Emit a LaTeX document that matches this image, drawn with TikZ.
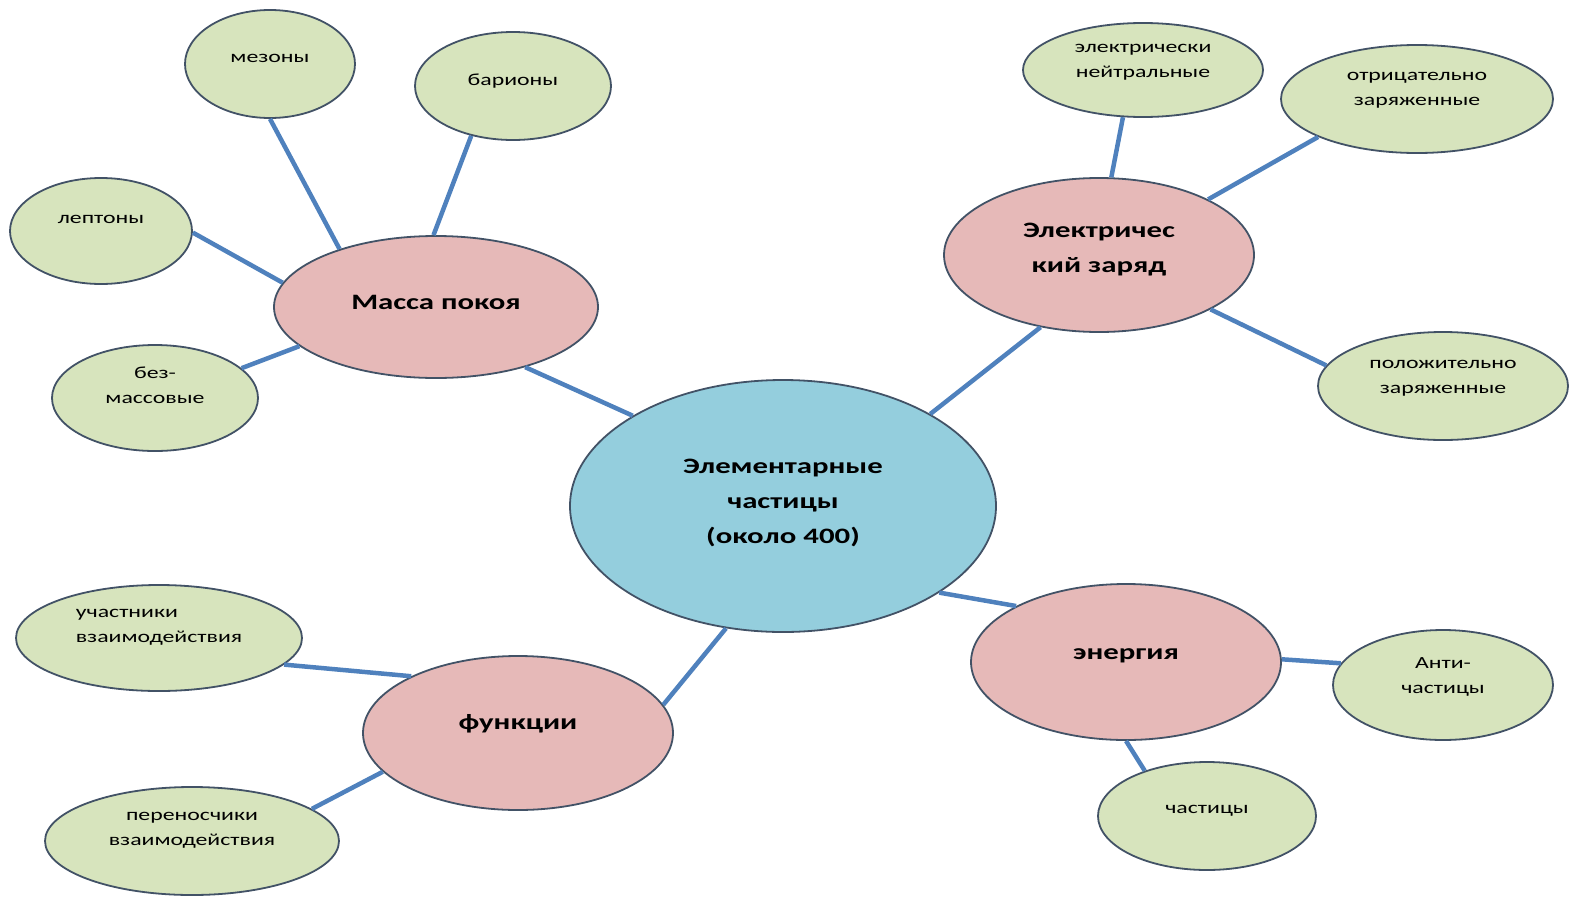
\documentclass[tikz,border=0pt]{standalone}
\usepackage{fontspec}
\setmainfont{Carlito}[FakeStretch=1.4]
\usetikzlibrary{shapes.geometric}
\definecolor{leafgreen}{RGB}{215,228,189}
\definecolor{hubpink}{RGB}{230,185,184}
\definecolor{coreblue}{RGB}{148,206,221}
\definecolor{rimgray}{RGB}{66,82,102}
\definecolor{linkblue}{RGB}{79,129,189}
\newcommand{\lift}[2][8pt]{\raisebox{#1}[\height][\depth]{\begin{tabular}{@{}c@{}}#2\end{tabular}}}
\begin{document}
\begin{tikzpicture}[x=1pt,y=-1pt,
  blob/.style={ellipse,draw=rimgray,line width=1.8pt,inner sep=0pt},
  core/.style={blob,fill=coreblue,font=\fontsize{22}{35}\selectfont\bfseries},
  hub/.style={blob,fill=hubpink,font=\fontsize{22}{35}\selectfont\bfseries},
  leaf/.style={blob,fill=leafgreen,font=\fontsize{17}{25}\selectfont},
  link/.style={draw=linkblue,line width=4.5pt}]
\useasboundingbox (0,0) rectangle (1571,897);
% centre and the four branches
\node[core,minimum width=426pt,minimum height=252pt] (core) at (783,506) {\lift[5pt]{Элементарные\\частицы\\(около 400)}};
\node[hub,minimum width=324pt,minimum height=142pt] (mass) at (436,307) {\lift[5pt]{Масса покоя}};
\node[hub,minimum width=310pt,minimum height=154pt] (charge) at (1099,255) {\lift[7pt]{Электричес\\кий заряд}};
\node[hub,minimum width=310pt,minimum height=156pt] (energy) at (1126,662) {\lift[10pt]{энергия}};
\node[hub,minimum width=310pt,minimum height=154pt] (func) at (518,733) {\lift[11pt]{функции}};
% leaves
\node[leaf,minimum width=170pt,minimum height=108pt] (mes) at (270,64) {\lift[7pt]{мезоны}};
\node[leaf,minimum width=196pt,minimum height=108pt] (bar) at (513,86) {\lift[6pt]{барионы}};
\node[leaf,minimum width=182pt,minimum height=106pt] (lep) at (101,231) {\lift[13pt]{лептоны}};
\node[leaf,minimum width=206pt,minimum height=106pt] (mless) at (155,398) {\lift[12pt]{без-\\массовые}};
\node[leaf,minimum width=240pt,minimum height=94pt] (neut) at (1143,70) {\lift[10pt]{электрически\\нейтральные}};
\node[leaf,minimum width=272pt,minimum height=108pt] (neg) at (1417,99) {\lift[11pt]{отрицательно\\заряженные}};
\node[leaf,minimum width=250pt,minimum height=108pt] (pos) at (1443,386) {\lift[10pt]{положительно\\заряженные}};
\node[leaf,minimum width=220pt,minimum height=110pt] (anti) at (1443,685) {\lift[9pt]{Анти-\\частицы}};
\node[leaf,minimum width=218pt,minimum height=108pt] (part) at (1207,816) {\lift[8pt]{частицы}};
\node[leaf,minimum width=286pt,minimum height=106pt] (user) at (159,638) {\raisebox{13pt}[\height][\depth]{\begin{tabular}{@{}l@{}}участники\\взаимодействия\end{tabular}}};
\node[leaf,minimum width=294pt,minimum height=108pt] (carr) at (192,841) {\lift[13pt]{переносчики\\взаимодействия}};
% connectors
\draw[link] (mes.270) -- (mass.149);
\draw[link] (bar.230) -- (mass.92);
\draw[link] (lep.-1) -- (mass.171);
\draw[link] (mless.19) -- (mass.196);
\draw[link] (mass.326) -- (core.149);
\draw[link] (charge.231) -- (core.32);
\draw[link] (neut.247) -- (charge.81);
\draw[link] (neg.201) -- (charge.27);
\draw[link] (pos.170) -- (charge.334);
\draw[link] (core.331) -- (energy.153);
\draw[link] (energy.1) -- (anti.168);
\draw[link] (energy.270) -- (part.144);
\draw[link] (core.245) -- (func.11);
\draw[link] (user.348) -- (func.152);
\draw[link] (carr.15) -- (func.196);
\end{tikzpicture}
\end{document}
